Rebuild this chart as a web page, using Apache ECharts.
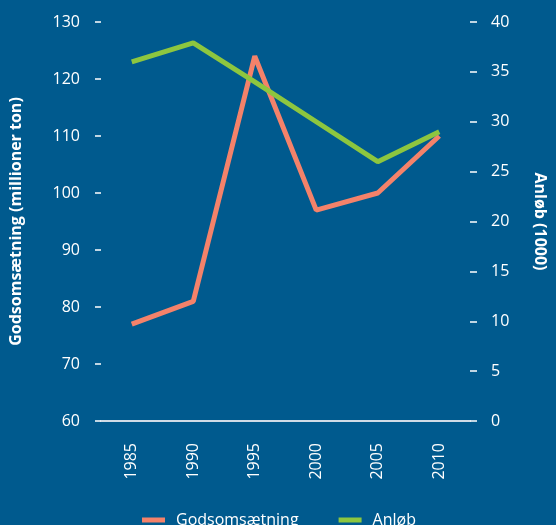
<!DOCTYPE html>
<html>
<head>
<meta charset="utf-8">
<script src="https://cdn.jsdelivr.net/npm/echarts@6/dist/echarts.min.js"></script>
<style>
  html, body { margin: 0; padding: 0; background: #005a8e; }
  #chart { width: 556px; height: 525px; }
</style>
</head>
<body>
<div id="chart"></div>
<script>
// data
const years = ["1985", "1990", "1995", "2000", "2005", "2010"];
const godsomsaetning = [77, 81, 124, 97, 100, 110];   // millioner ton (left axis)
const anloeb = [36, 37.9, 34, 30, 26, 29];             // 1000 (right axis)

const font = "'Open Sans', 'Noto Sans', sans-serif";
const chart = echarts.init(document.getElementById("chart"));

chart.setOption({
  backgroundColor: "#005a8e",
  animation: false,
  textStyle: { fontFamily: font },
  grid: { left: 97, right: 84, top: 22, bottom: 104 },
  legend: {
    bottom: -8,
    left: 137,
    icon: "rect",
    itemWidth: 23,
    itemHeight: 5,
    itemGap: 40,
    textStyle: { color: "#ffffff", fontSize: 16, fontFamily: font, padding: [0, 0, 0, 6] },
    data: ["Godsomsætning", "Anløb"]
  },
  xAxis: {
    type: "category",
    data: years,
    boundaryGap: true,
    axisLine: { lineStyle: { color: "#d0dbe6", width: 2 } },
    axisTick: { length: 6, lineStyle: { color: "#d0dbe6", width: 2 } },
    axisLabel: { color: "#ffffff", fontSize: 16, rotate: 90, margin: 22, fontFamily: font },
    splitLine: { show: false }
  },
  yAxis: [
    {
      type: "value",
      min: 60,
      max: 130,
      interval: 10,
      name: "Godsomsætning (millioner ton)",
      nameLocation: "middle",
      nameGap: 77,
      nameRotate: 90,
      nameTextStyle: { color: "#ffffff", fontSize: 16, fontWeight: "bold", fontFamily: font },
      axisLine: { show: false },
      axisTick: { show: true, length: 6, lineStyle: { color: "#ffffff", width: 1.5 } },
      axisLabel: { color: "#ffffff", fontSize: 16, margin: 21, fontFamily: font },
      splitLine: { show: false }
    },
    {
      type: "value",
      min: 0,
      max: 40,
      interval: 5,
      name: "Anløb (1000)",
      nameLocation: "middle",
      nameGap: 62,
      nameRotate: -90,
      nameTextStyle: { color: "#ffffff", fontSize: 16, fontWeight: "bold", fontFamily: font },
      axisLine: { show: false },
      axisTick: { show: true, length: 7, lineStyle: { color: "#ffffff", width: 1.5 } },
      axisLabel: { color: "#ffffff", fontSize: 16, margin: 21, fontFamily: font },
      splitLine: { show: false }
    }
  ],
  series: [
    {
      name: "Godsomsætning",
      type: "line",
      yAxisIndex: 0,
      data: godsomsaetning,
      symbol: "none",
      lineStyle: { color: "#f4826a", width: 5 },
      itemStyle: { color: "#f4826a" }
    },
    {
      name: "Anløb",
      type: "line",
      yAxisIndex: 1,
      data: anloeb,
      symbol: "none",
      lineStyle: { color: "#8dc63f", width: 5 },
      itemStyle: { color: "#8dc63f" }
    }
  ]
});
</script>
</body>
</html>
